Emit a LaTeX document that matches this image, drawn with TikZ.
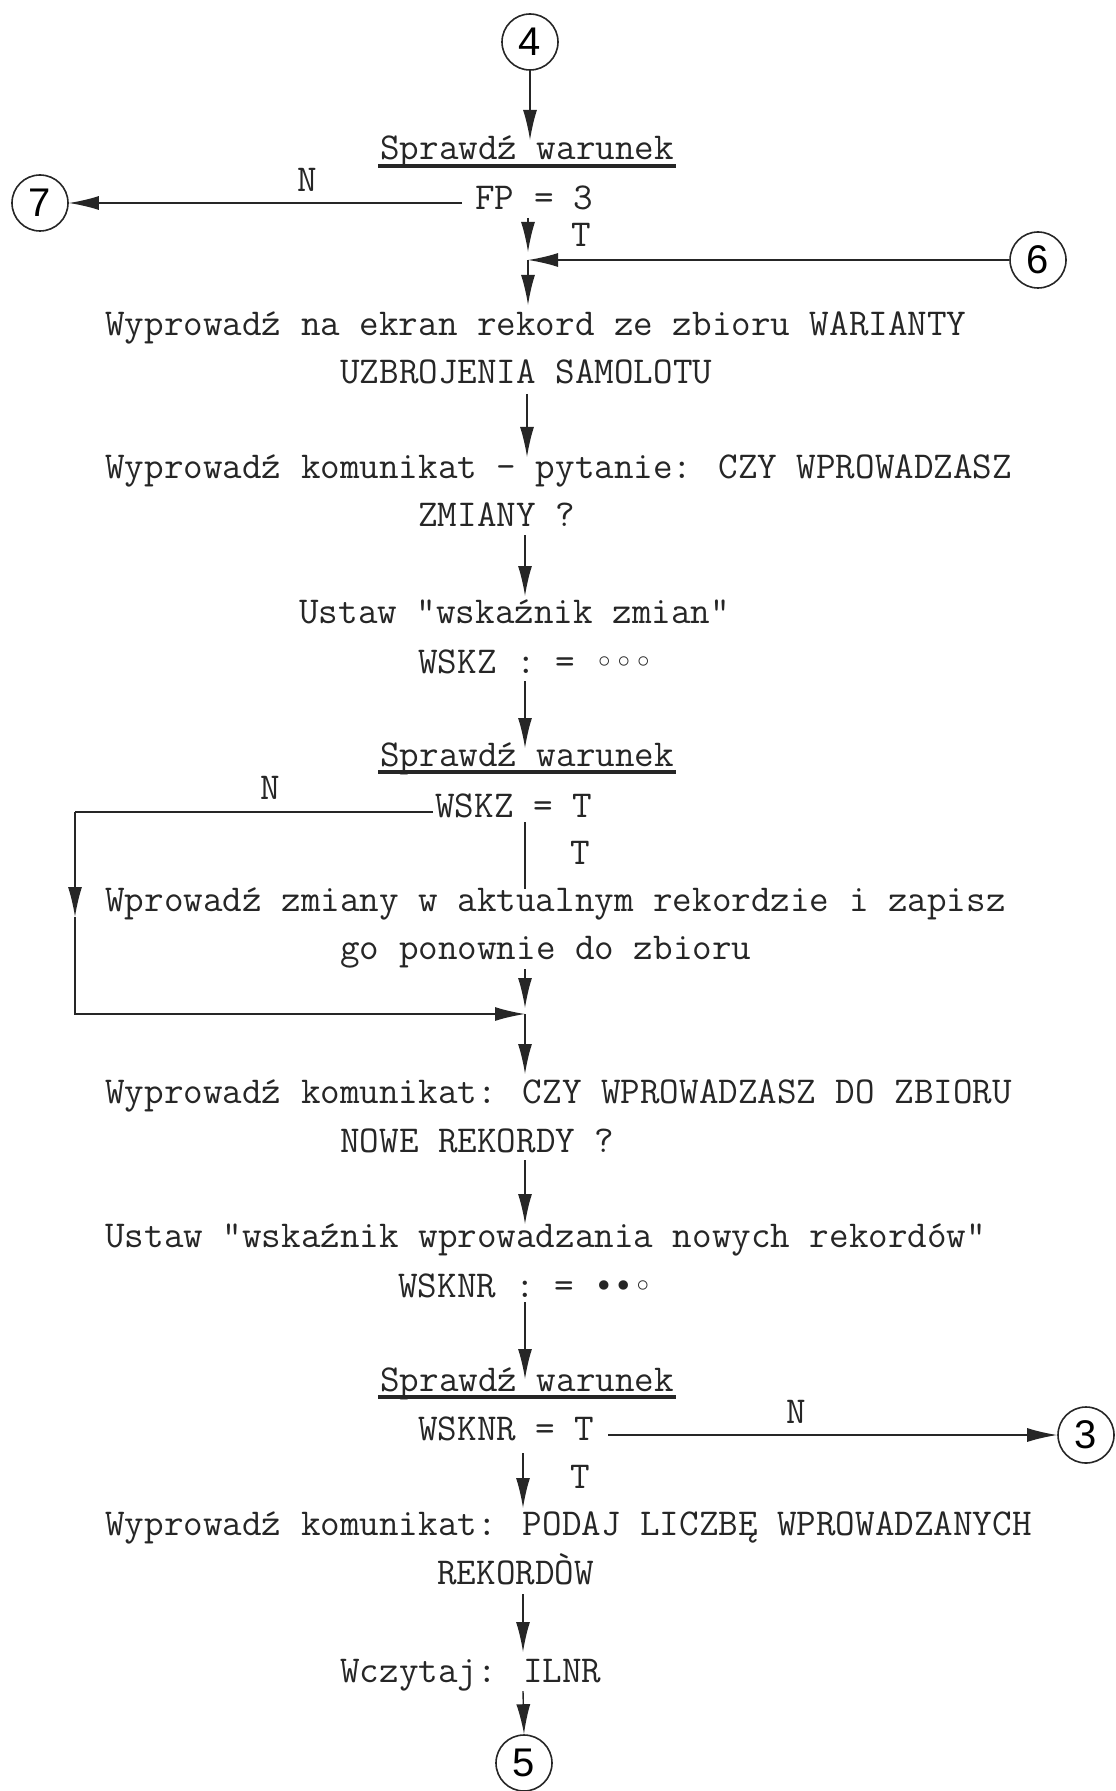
\documentclass[tikz,border=0pt]{standalone}
\usepackage{fontspec}
\newfontfamily\dotf{DejaVu Sans Mono}
\newfontfamily\hand{Liberation Sans}
\usetikzlibrary{arrows.meta}
\newcommand\twf{\ttfamily\fontsize{19pt}{21pt}\selectfont\addfontfeatures{FakeBold=0.5}}
\newcommand\dt[1]{{\dotf\fontsize{16.2pt}{18pt}\selectfont #1}}
\begin{document}
\begin{tikzpicture}[x=0.5pt,y=-0.5pt,
  txt/.style={anchor=base west,inner sep=0pt,font=\twf,text=black!85},
  lbl/.style={anchor=center,inner sep=0pt,font=\twf,text=black!85},
  conn/.style={circle,draw=black!85,line width=0.8pt,minimum size=28pt,inner sep=0pt,font=\hand\fontsize{20pt}{22pt}\selectfont},
  flow/.style={draw=black!85,line width=0.7pt},
  arr/.style={flow,-{Latex[length=15pt,width=7pt]}},
  uline/.style={draw=black!85,line width=1.8pt}]
\useasboundingbox (0,0) rectangle (1115,1791);

% connectors (circles)
\node[conn] (c4) at (530,42) {4};
\node[conn] (c7) at (40,203) {7};
\node[conn] (c6) at (1038,260) {6};
\node[conn] (c3) at (1086,1435) {3};
\node[conn] (c5) at (524,1763) {5};

% texts
\node[txt] (s1) at (380,160) {Sprawdź warunek};
\node[txt] (fp) at (475,210) {FP = 3};
\node[lbl] (n1) at (307,180) {N};
\node[lbl] (t1) at (581,235) {T};
\node[txt] (w1a) at (105,336) {Wyprowadź na ekran rekord ze zbioru WARIANTY};
\node[txt] (w1b) at (340,384) {UZBROJENIA SAMOLOTU};
\node[txt] (w2a) at (105,478) {Wyprowadź komunikat - pytanie: CZY WPROWADZASZ};
\node[txt] (w2b) at (418,526) {ZMIANY ?};
\node[txt] (u1a) at (299,623) {Ustaw "wskaźnik zmian"};
\node[txt] (u1b) at (418,673) {WSKZ : = \dt{◦◦◦}};
\node[txt] (s2) at (380,766) {Sprawdź warunek};
\node[txt] (wskz) at (435,817) {WSKZ = T};
\node[lbl] (n2) at (270,788) {N};
\node[lbl] (t2) at (580,853) {T};
\node[txt] (z1a) at (105,911) {Wprowadź zmiany w aktualnym rekordzie i zapisz};
\node[txt] (z1b) at (340,959) {go ponownie do zbioru};
\node[txt] (w3a) at (105,1103) {Wyprowadź komunikat: CZY WPROWADZASZ DO ZBIORU};
\node[txt] (w3b) at (340,1152) {NOWE REKORDY ?};
\node[txt] (u2a) at (105,1247) {Ustaw "wskaźnik wprowadzania nowych rekordów"};
\node[txt] (u2b) at (398,1297) {WSKNR : = \dt{••◦}};
\node[txt] (s3) at (380,1391) {Sprawdź warunek};
\node[txt] (wsknr) at (418,1440) {WSKNR = T};
\node[lbl] (n3) at (796,1412) {N};
\node[lbl] (t3) at (580,1477) {T};
\node[txt] (w4a) at (105,1535) {Wyprowadź komunikat: PODAJ LICZBĘ WPROWADZANYCH};
\node[txt] (w4b) at (437,1584) {REKORDÒW};
\node[txt] (wcz) at (340,1682) {Wczytaj: ILNR};

% underlines
\draw[uline] ([xshift=-1pt,yshift=-3pt]s1.base west) -- ([xshift=1pt,yshift=-3pt]s1.base east);
\draw[uline] ([xshift=-1pt,yshift=-3pt]s2.base west) -- ([xshift=1pt,yshift=-3pt]s2.base east);
\draw[uline] ([xshift=-1pt,yshift=-3pt]s3.base west) -- ([xshift=1pt,yshift=-3pt]s3.base east);

% named points on the flow line
\coordinate (s1top) at (530,140);
\coordinate (fpL) at (462,203);
\coordinate (fpB) at (528,218);
\coordinate (j1) at (528,260);
\coordinate (j1a) at (528,252);
\coordinate (w1top) at (528,305);
\coordinate (w1bot) at (527,394);
\coordinate (w2top) at (527,457);
\coordinate (w2bot) at (525,535);
\coordinate (u1top) at (525,596);
\coordinate (u1bot) at (525,681);
\coordinate (s2top) at (525,748);
\coordinate (wskzL) at (433,812);
\coordinate (k1) at (75,812);
\coordinate (k1m) at (75,917);
\coordinate (k2) at (75,1014);
\coordinate (wskzB) at (525,822);
\coordinate (z1top) at (525,889);
\coordinate (z1bot) at (525,969);
\coordinate (j2) at (525,1014);
\coordinate (j2a) at (525,1008);
\coordinate (w3top) at (525,1074);
\coordinate (w3bot) at (525,1160);
\coordinate (u2top) at (525,1224);
\coordinate (u2bot) at (525,1302);
\coordinate (s3top) at (525,1379);
\coordinate (wsknrR) at (608,1435);
\coordinate (wsknrB) at (523,1453);
\coordinate (w4top) at (523,1508);
\coordinate (w4bot) at (523,1594);
\coordinate (wcztop) at (523,1652);
\coordinate (wczbot) at (523,1691);

% connectors
\draw[arr] (c4.south) -- (s1top);
\draw[arr] (fpL) -- (c7.east);
\draw[arr] (fpB) -- (j1a);
\draw[arr] (c6.west) -- (j1);
\draw[arr] (j1) -- (w1top);
\draw[arr] (w1bot) -- (w2top);
\draw[arr] (w2bot) -- (u1top);
\draw[arr] (u1bot) -- (s2top);
\draw[flow] (wskzL) -- (k1);
\draw[arr] (k1) -- (k1m);
\draw[arr] (k1m) -- (k2) -- (j2);
\draw[flow] (wskzB) -- (z1top);
\draw[arr] (z1bot) -- (j2a);
\draw[arr] (j2) -- (w3top);
\draw[arr] (w3bot) -- (u2top);
\draw[arr] (u2bot) -- (s3top);
\draw[arr] (wsknrR) -- (c3.west);
\draw[arr] (wsknrB) -- (w4top);
\draw[arr] (w4bot) -- (wcztop);
\draw[arr] (wczbot) -- (c5.north);
\end{tikzpicture}
\end{document}
